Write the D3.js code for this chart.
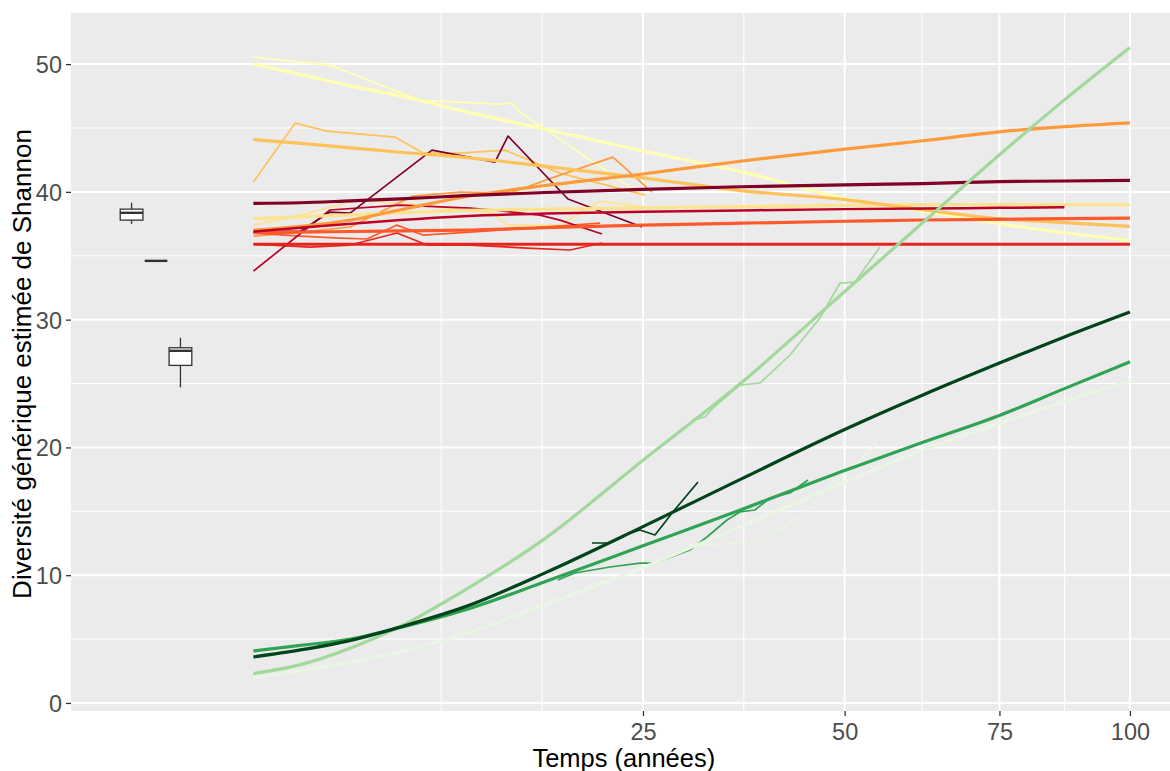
<!DOCTYPE html>
<html><head><meta charset="utf-8">
<script src="https://cdn.jsdelivr.net/npm/d3@7"></script>
<style>body{margin:0;background:#fff}svg{display:block}text{font-family:"Liberation Sans",Arial,sans-serif}</style>
</head><body><svg id="c" width="1170" height="771"></svg>
<script>
// ---- tick labels ----
const xTicks = [25, 50, 75, 100];
const yTicks = [0, 10, 20, 30, 40, 50];

// ---- fitted (thick) curves: times and values ----
const fitTimes = [1, 2.2, 4, 6.3, 10, 16, 25, 36, 50, 62, 75, 87, 100];
const fitPaleYellow   = [50.0, 49.2, 48.3, 47.5, 46.3, 44.9, 43.2, 41.6, 39.5, 38.5, 37.5, 36.8, 36.2];
const fitLightYellow  = [37.9, 38.05, 38.2, 38.35, 38.55, 38.65, 38.75, 38.85, 38.95, 39.0, 39.0, 39.0, 39.0];
const fitYellowOrange = [44.1, 43.8, 43.45, 43.1, 42.7, 42.0, 41.1, 40.1, 39.4, 38.6, 37.9, 37.6, 37.3];
const fitOrange       = [37.0, 37.3, 37.8, 38.6, 39.6, 40.5, 41.4, 42.4, 43.35, 44.0, 44.7, 45.1, 45.4];
const fitOrangeRed    = [36.8, 36.85, 36.9, 36.95, 37.0, 37.2, 37.4, 37.55, 37.7, 37.8, 37.85, 37.9, 37.95];
const fitRed          = [35.9, 35.9, 35.9, 35.9, 35.9, 35.9, 35.9, 35.9, 35.9, 35.9, 35.9, 35.9, 35.9];
const fitCrimson      = [36.9, 37.2, 37.5, 37.8, 38.1, 38.3, 38.45, 38.55, 38.65, 38.7, 38.75, 38.8, null];
const fitDarkRed      = [39.1, 39.15, 39.3, 39.45, 39.7, 39.95, 40.2, 40.4, 40.55, 40.65, 40.8, 40.85, 40.9];
const fitLightGreen   = [2.3, 3.0, 4.3, 6.0, 8.8, 12.9, 19.0, 25.0, 32.2, 37.6, 42.9, 47.2, 51.3];
const fitDarkGreen    = [3.6, 4.15, 4.9, 5.95, 7.5, 10.2, 13.8, 17.5, 21.4, 24.1, 26.6, 28.65, 30.6];
const fitMidGreen     = [4.07, 4.5, 5.0, 5.9, 7.25, 9.5, 12.3, 15.1, 18.2, 20.4, 22.5, 24.6, 26.7];
const fitPaleGreen    = [1.96, 2.5, 3.2, 4.0, 5.4, 7.7, 10.6, 13.8, 17.3, 19.8, 21.9, 23.6, 25.2];

// ---- observed (thin) series: times and values ----
const obsPaleYellowT = [1, 3.19, 3.97, 7.35, 12.47, 13.36, 13.97, 18.95, 24.9];
const obsPaleYellowV = [50.55, 49.92, 49.3, 47.18, 46.87, 46.95, 46.24, 43.04, 39.75];
const obsYellowOrangeT = [1, 2.04, 3.08, 6.02, 7.51, 9.74, 12.84, 17.2, 25.2];
const obsYellowOrangeV = [40.77, 45.38, 44.76, 44.29, 43.04, 43.04, 43.27, 41.47, 39.75];
const obsOrangeT = [1, 2.19, 3.97, 6.96, 9.74, 13.21, 17.2, 22.01, 25.93];
const obsOrangeV = [36.54, 36.85, 37.25, 39.67, 39.98, 39.91, 41.31, 42.72, 39.98];
const obsDarkRedT = [1, 2.19, 3.19, 3.97, 8.03, 12.11, 13.06, 17.89, 24.9];
const obsDarkRedV = [36.85, 36.93, 38.42, 38.34, 43.27, 42.33, 44.37, 39.44, 37.25];
const obsCrimsonT = [1, 3.19, 6.28, 10.39, 11.97, 15.54, 17.2, 20.97];
const obsCrimsonV = [33.8, 38.58, 38.97, 38.73, 38.58, 38.18, 37.79, 36.7];
const obsLightYellowT = [1, 2.19, 4.26, 7.35, 11.97, 12.99, 17.2, 20.78, 25.2];
const obsLightYellowV = [37.4, 38.18, 39.36, 38.97, 38.34, 37.4, 37.4, 39.28, 38.81];
const obsOrangeRedT = [1, 2.19, 3.57, 4.69, 6.12, 7.51, 10.39, 14.74, 20.78];
const obsOrangeRedV = [36.78, 36.54, 36.38, 36.31, 37.4, 36.62, 36.85, 37.17, 37.56];
const obsRedT = [1, 2.5, 3.97, 6.12, 7.74, 10.39, 14.51, 18.07, 20.97];
const obsRedV = [35.92, 35.68, 35.84, 36.78, 35.84, 35.84, 35.6, 35.45, 36.0];
const obsLightGreenT = [30.28, 31.77, 32.7, 35.95, 38.46, 42.37, 46.47, 49.32, 51.5, 55.25];
const obsLightGreenV = [22.14, 22.38, 23.08, 24.88, 25.04, 27.23, 30.13, 32.86, 32.94, 35.68];
const obsDarkGreenT = [20.04, 21.73, 23.19, 24.69, 26.25, 28.17, 30.97];
const obsDarkGreenV = [12.52, 12.52, 13.15, 13.54, 13.15, 14.95, 17.29];
const obsMidGreenT = [17.03, 18.5, 21.73, 24.69, 26.25, 30.06, 32.0, 34.37, 35.95, 37.82, 39.74, 42.37, 44.81];
const obsMidGreenV = [9.62, 10.17, 10.64, 10.95, 10.95, 11.97, 12.99, 14.32, 14.95, 15.1, 16.04, 16.43, 17.45];
const obsPaleGreenT = [30.06, 36.57, 41.04, 44.4, 47.89, 50.77, 54.8];
const obsPaleGreenV = [12.36, 12.52, 13.54, 14.87, 17.06, 18.23, 20.34];

// ---- boxplots at time 0 (dodged) ----
const boxGroups = ["g1", "g2", "g3"];
const boxLow  = [37.5, 34.6, 24.7];
const boxQ1   = [37.79, 34.6, 26.42];
const boxMed  = [38.36, 34.6, 27.56];
const boxQ3   = [38.65, 34.6, 27.8];
const boxHigh = [39.15, 34.6, 28.58];

// ---- colours ----
const colPaleYellow = "#FFFFB2", colLightYellow = "#FEE38E", colYellowOrange = "#FEC25A",
      colOrange = "#FD9A3C", colOrangeRed = "#FC5A2C", colRed = "#E8231C",
      colCrimson = "#BD0026", colDarkRed = "#800026",
      colLightGreen = "#A1D99B", colDarkGreen = "#00441B", colMidGreen = "#31A354", colPaleGreen = "#E8F6E3";

const fits = [
  [fitPaleYellow, colPaleYellow, 3.2], [fitLightYellow, colLightYellow, 3.2], [fitYellowOrange, colYellowOrange, 3.2],
  [fitOrange, colOrange, 3.2], [fitOrangeRed, colOrangeRed, 3.2], [fitRed, colRed, 3.2], [fitCrimson, colCrimson, 2.5],
  [fitDarkRed, colDarkRed, 3.2], [fitPaleGreen, colPaleGreen, 3.2], [fitLightGreen, colLightGreen, 3.2],
  [fitMidGreen, colMidGreen, 3.2], [fitDarkGreen, colDarkGreen, 3.2]
];
const obs = [
  [obsPaleYellowT, obsPaleYellowV, colPaleYellow], [obsLightYellowT, obsLightYellowV, colLightYellow],
  [obsYellowOrangeT, obsYellowOrangeV, colYellowOrange], [obsOrangeT, obsOrangeV, colOrange],
  [obsOrangeRedT, obsOrangeRedV, colOrangeRed], [obsRedT, obsRedV, colRed],
  [obsCrimsonT, obsCrimsonV, colCrimson], [obsDarkRedT, obsDarkRedV, colDarkRed],
  [obsPaleGreenT, obsPaleGreenV, colPaleGreen], [obsLightGreenT, obsLightGreenV, colLightGreen],
  [obsMidGreenT, obsMidGreenV, colMidGreen], [obsDarkGreenT, obsDarkGreenV, colDarkGreen]
];

const svg = d3.select("#c");
const P = {l: 71, r: 1170, t: 13, b: 711};
const x = d3.scaleSqrt().domain([-0.762, 108.4]).range([P.l, P.r]);
const y = d3.scaleLinear().domain([-0.63, 54.0]).range([P.b, P.t]);

svg.append("rect").attr("x", P.l).attr("y", P.t).attr("width", P.r - P.l).attr("height", P.b - P.t).attr("fill", "#EBEBEB");

// minor breaks, ggplot style (midpoints in transformed space)
const s = xTicks.map(Math.sqrt);
const bd = s[1] - s[0];
const ext = [s[0] - bd, ...s, s[s.length - 1] + bd];
const xMinor = [];
for (let i = 0; i < ext.length - 1; i++) { xMinor.push(ext[i] * ext[i]); xMinor.push(Math.pow((ext[i] + ext[i + 1]) / 2, 2)); }
const xMinorIn = xMinor.filter(t => !xTicks.some(m => Math.abs(m - t) < 1e-6) && x(t) > P.l && x(t) < P.r);
const yMinor = yTicks.slice(0, -1).map((v, i) => (v + yTicks[i + 1]) / 2).concat([yTicks[yTicks.length - 1] + 5]).filter(v => y(v) > P.t && y(v) < P.b);

const grid = svg.append("g").attr("stroke", "#fff");
grid.selectAll(".ym").data(yMinor).join("line").attr("x1", P.l).attr("x2", P.r).attr("y1", d => y(d)).attr("y2", d => y(d)).attr("stroke-width", 1.1);
grid.selectAll(".xm").data(xMinorIn).join("line").attr("y1", P.t).attr("y2", P.b).attr("x1", d => x(d)).attr("x2", d => x(d)).attr("stroke-width", 1.1);
grid.selectAll(".yM").data(yTicks).join("line").attr("x1", P.l).attr("x2", P.r).attr("y1", d => y(d)).attr("y2", d => y(d)).attr("stroke-width", 2);
grid.selectAll(".xM").data(xTicks).join("line").attr("y1", P.t).attr("y2", P.b).attr("x1", d => x(d)).attr("x2", d => x(d)).attr("stroke-width", 2);

// boxplots
const unit = x(1) - x(0);
const band = d3.scaleBand().domain(boxGroups).range([x(0) - 0.375 * unit, x(0) + 0.375 * unit]).paddingInner(0.07).paddingOuter(0.03);
const bx = svg.append("g").attr("stroke", "#333").attr("fill", "#fff");
boxGroups.forEach((g, i) => {
  const cx = band(g) + band.bandwidth() / 2;
  bx.append("line").attr("x1", cx).attr("x2", cx).attr("y1", y(boxHigh[i])).attr("y2", y(boxQ3[i])).attr("stroke-width", 1.3);
  bx.append("line").attr("x1", cx).attr("x2", cx).attr("y1", y(boxQ1[i])).attr("y2", y(boxLow[i])).attr("stroke-width", 1.3);
  bx.append("rect").attr("x", band(g)).attr("width", band.bandwidth()).attr("y", y(boxQ3[i])).attr("height", Math.max(0, y(boxQ1[i]) - y(boxQ3[i]))).attr("stroke-width", 1.3);
  bx.append("line").attr("x1", band(g)).attr("x2", band(g) + band.bandwidth()).attr("y1", y(boxMed[i])).attr("y2", y(boxMed[i])).attr("stroke-width", 2.4);
});

svg.append("clipPath").attr("id", "pc").append("rect").attr("x", P.l).attr("y", P.t).attr("width", P.r - P.l).attr("height", P.b - P.t);
const gl = svg.append("g").attr("clip-path", "url(#pc)").attr("fill", "none").attr("stroke-linejoin", "round").attr("stroke-linecap", "butt");

const lineFit = d3.line().defined(d => d[1] != null).x(d => x(d[0])).y(d => y(d[1])).curve(d3.curveMonotoneX);
const lineObs = d3.line().x(d => x(d[0])).y(d => y(d[1]));

obs.forEach(([T, V, c]) => {
  gl.append("path").attr("d", lineObs(T.map((t, i) => [t, V[i]]))).attr("stroke", c).attr("stroke-width", 1.7);
});
fits.forEach(([V, c, w]) => {
  gl.append("path").attr("d", lineFit(fitTimes.map((t, i) => [t, V[i]]))).attr("stroke", c).attr("stroke-width", w);
});

// axes
const xa = svg.append("g").attr("transform", `translate(0,${P.b})`)
  .call(d3.axisBottom(x).tickValues(xTicks).tickSize(5).tickPadding(6).tickFormat(d3.format("d")));
const ya = svg.append("g").attr("transform", `translate(${P.l},0)`)
  .call(d3.axisLeft(y).tickValues(yTicks).tickSize(5).tickPadding(4).tickFormat(d3.format("d")));
[xa, ya].forEach(a => {
  a.select(".domain").remove();
  a.selectAll(".tick line").attr("stroke", "#333").attr("stroke-width", 1.3);
  a.selectAll(".tick text").attr("fill", "#4D4D4D").style("font-size", "23.5px").style("font-family", '"Liberation Sans", Arial, sans-serif');
});
xa.selectAll(".tick text").attr("dy", null).attr("y", 29);
ya.selectAll(".tick text").attr("dy", "0.36em").attr("x", -9);

svg.append("text").attr("x", (x(25) + x(50)) / 2 - 120).attr("y", 767).attr("text-anchor", "middle")
  .style("font-size", "25.5px").attr("fill", "#000").text("Temps (années)");
svg.append("text").attr("transform", `translate(31,${(127 + 601) / 2}) rotate(-90)`).attr("text-anchor", "middle")
  .style("font-size", "26px").attr("fill", "#000").text("Diversité générique estimée de Shannon");
</script></body></html>
